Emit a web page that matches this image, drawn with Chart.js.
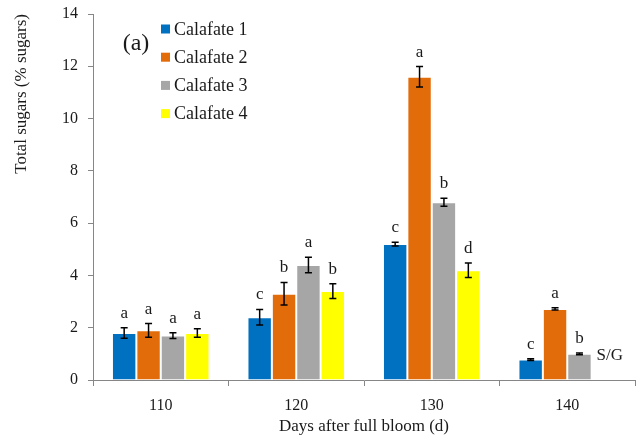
<!DOCTYPE html>
<html>
<head>
<meta charset="utf-8">
<script src="https://cdn.jsdelivr.net/npm/chart.js@4.4.0/dist/chart.umd.min.js"></script>
<style>
  html, body { margin: 0; padding: 0; background: #fff; }
  #wrap { width: 638px; height: 444px; }
</style>
</head>
<body>
<div id="wrap"><canvas id="c" width="638" height="444"></canvas></div>
<script>
// Days after full bloom
const categories = ['110', '120', '130', '140'];

// Total sugars (%) per selection, mean values
const calafate1 = [1.8, 2.4, 5.2, 0.78];
const calafate2 = [1.9, 3.3, 11.6, 2.72];
const calafate3 = [1.7, 4.4, 6.8, 1.0];
const calafate4 = [1.8, 3.4, 4.2, null];

// Standard errors
const err1 = [0.2, 0.3, 0.07, 0.03];
const err2 = [0.26, 0.43, 0.39, 0.04];
const err3 = [0.11, 0.3, 0.15, 0.03];
const err4 = [0.16, 0.28, 0.28, null];

// Significance letters (S/G = no data)
const letters1 = ['a', 'c', 'c', 'c'];
const letters2 = ['a', 'b', 'a', 'a'];
const letters3 = ['a', 'a', 'b', 'b'];
const letters4 = ['a', 'b', 'd', 'S/G'];

const yTicks = [0, 2, 4, 6, 8, 10, 12, 14];

const FONT = '"Liberation Serif", "Times New Roman", serif';
const AXIS = '#868686';
const TEXT = '#1a1a1a';

// Error bars, letters, panel tag and the inline legend
const annotate = {
  id: 'annotate',
  afterDatasetsDraw(chart) {
    const ctx = chart.ctx;
    const y = chart.scales.y;
    ctx.save();
    chart.data.datasets.forEach((ds, di) => {
      const meta = chart.getDatasetMeta(di);
      meta.data.forEach((bar, i) => {
        const v = ds.data[i];
        const e = ds.errors[i];
        const x = bar.x;
        let labelY;
        if (v != null && e != null) {
          const top = y.getPixelForValue(v + e);
          const bot = y.getPixelForValue(v - e);
          ctx.strokeStyle = '#000';
          ctx.lineWidth = 1.5;
          ctx.beginPath();
          ctx.moveTo(x, top); ctx.lineTo(x, bot);
          ctx.moveTo(x - 3.5, top); ctx.lineTo(x + 3.5, top);
          ctx.moveTo(x - 3.5, bot); ctx.lineTo(x + 3.5, bot);
          ctx.stroke();
          labelY = top - 10;
        } else {
          labelY = y.getPixelForValue(0) - 20;
        }
        const letter = ds.letters[i];
        if (letter) {
          ctx.fillStyle = TEXT;
          ctx.font = '17px ' + FONT;
          ctx.textAlign = 'center';
          ctx.textBaseline = 'alphabetic';
          ctx.fillText(letter, v == null ? x + 6 : x, labelY);
        }
      });
    });

    // panel tag
    const ca = chart.chartArea;
    ctx.fillStyle = TEXT;
    ctx.font = '24px ' + FONT;
    ctx.textAlign = 'center';
    ctx.textBaseline = 'middle';
    ctx.fillText('(a)', ca.left + 43, ca.top + 30);

    // legend
    ctx.font = '18px ' + FONT;
    ctx.textAlign = 'left';
    chart.data.datasets.forEach((ds, di) => {
      const cy = ca.top + 15 + di * 28.2;
      ctx.fillStyle = ds.backgroundColor;
      ctx.fillRect(ca.left + 68, cy - 4.5, 9, 9);
      ctx.fillStyle = TEXT;
      ctx.fillText(ds.label, ca.left + 81, cy + 1);
    });
    ctx.restore();
  }
};

function series(label, data, errors, letters, color) {
  return {
    label, data, errors, letters,
    backgroundColor: color,
    borderColor: 'rgba(255,255,255,0.55)',
    borderWidth: 1,
    categoryPercentage: 0.72,
    barPercentage: 1.0
  };
}

new Chart(document.getElementById('c'), {
  type: 'bar',
  data: {
    labels: categories,
    datasets: [
      series('Calafate 1', calafate1, err1, letters1, '#0070C0'),
      series('Calafate 2', calafate2, err2, letters2, '#E36C0A'),
      series('Calafate 3', calafate3, err3, letters3, '#A6A6A6'),
      series('Calafate 4', calafate4, err4, letters4, '#FFFF00')
    ]
  },
  options: {
    responsive: false,
    animation: false,
    devicePixelRatio: 1,
    layout: { padding: { top: 14, right: 3, left: 0, bottom: 0 } },
    plugins: {
      legend: { display: false },
      tooltip: { enabled: false }
    },
    scales: {
      x: {
        grid: { offset: true, drawOnChartArea: false, color: AXIS, tickLength: 6, tickWidth: 1 },
        border: { color: AXIS, width: 1 },
        ticks: { color: TEXT, font: { family: FONT, size: 16 }, padding: 10, maxRotation: 0 },
        title: {
          display: true, text: 'Days after full bloom (d)',
          color: TEXT, font: { family: FONT, size: 17 },
          padding: { top: 0, bottom: 7 }
        },
        afterFit(scale) { scale.height = 64; }
      },
      y: {
        min: 0, max: 14,
        afterBuildTicks(scale) { scale.ticks = yTicks.map(v => ({ value: v })); },
        grid: { drawOnChartArea: false, color: AXIS, tickLength: 5, tickWidth: 1 },
        border: { color: AXIS, width: 1 },
        ticks: { color: TEXT, font: { family: FONT, size: 16 }, padding: 10 },
        title: {
          display: true, text: 'Total sugars (% sugars)', align: 'end',
          color: TEXT, font: { family: FONT, size: 17 },
          padding: { top: 11, bottom: 0 }
        },
        afterFit(scale) {
          scale.width = 93;
          scale.paddingTop = 0;
        }
      }
    }
  },
  plugins: [annotate]
});
</script>
</body>
</html>
